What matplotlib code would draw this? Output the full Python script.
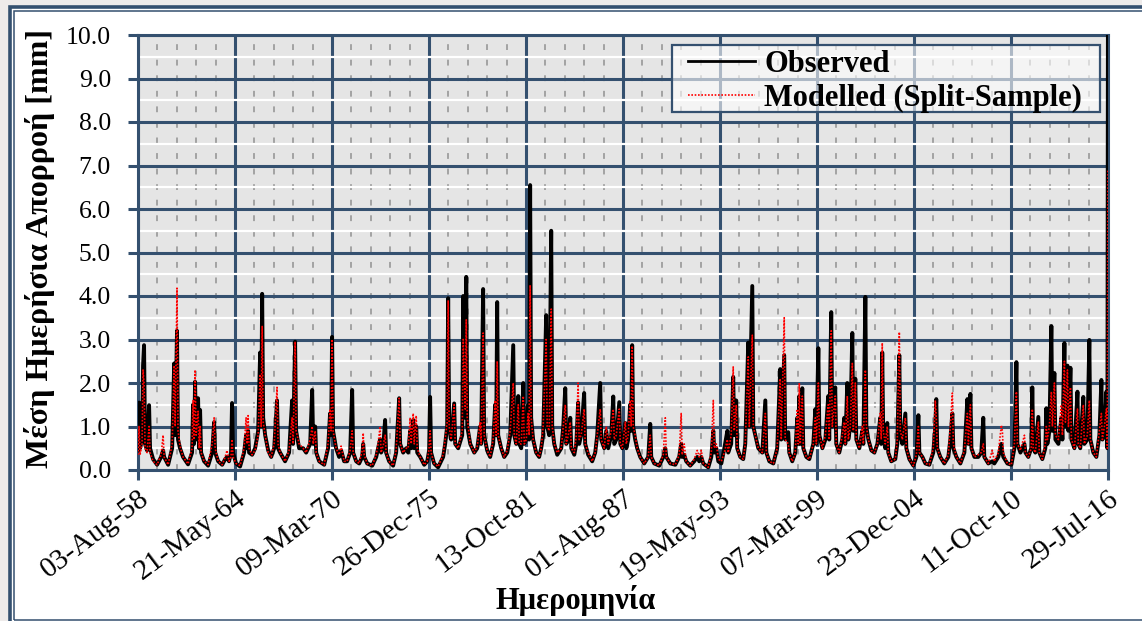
import numpy as np
import matplotlib
matplotlib.use("Agg")
import matplotlib.pyplot as plt
import matplotlib.transforms as mtransforms
from matplotlib.patches import Rectangle
from matplotlib.ticker import MultipleLocator, FormatStrFormatter

# time of each point as decimal year
t = [
    1958.59, 1958.65, 1958.71, 1958.83, 1958.89, 1958.95, 1959.01, 1959.13, 1959.25, 1959.31,
    1959.49, 1959.73, 1959.97, 1960.09, 1960.15, 1960.39, 1960.63, 1960.75, 1960.81, 1960.92,
    1960.98, 1961.10, 1961.28, 1961.58, 1961.82, 1961.88, 1961.94, 1962.00, 1962.06, 1962.18,
    1962.24, 1962.30, 1962.36, 1962.54, 1962.78, 1963.02, 1963.14, 1963.20, 1963.38, 1963.62,
    1963.80, 1963.91, 1964.03, 1964.15, 1964.21, 1964.27, 1964.45, 1964.69, 1964.93, 1965.05,
    1965.11, 1965.17, 1965.23, 1965.41, 1965.59, 1965.77, 1965.89, 1965.95, 1966.01, 1966.07,
    1966.19, 1966.37, 1966.55, 1966.73, 1966.90, 1966.96, 1967.08, 1967.38, 1967.62, 1967.80,
    1967.86, 1967.98, 1968.04, 1968.22, 1968.46, 1968.64, 1968.88, 1969.00, 1969.06, 1969.18,
    1969.24, 1969.42, 1969.72, 1969.95, 1970.07, 1970.13, 1970.19, 1970.25, 1970.43, 1970.61,
    1970.73, 1970.91, 1971.09, 1971.27, 1971.39, 1971.45, 1971.63, 1971.81, 1971.99, 1972.05,
    1972.11, 1972.29, 1972.59, 1972.83, 1972.94, 1973.06, 1973.12, 1973.24, 1973.36, 1973.42,
    1973.60, 1973.84, 1974.02, 1974.20, 1974.26, 1974.44, 1974.62, 1974.74, 1974.86, 1974.92,
    1975.04, 1975.10, 1975.22, 1975.28, 1975.46, 1975.70, 1975.88, 1975.99, 1976.05, 1976.11,
    1976.29, 1976.53, 1976.83, 1976.95, 1977.07, 1977.13, 1977.19, 1977.31, 1977.49, 1977.55,
    1977.73, 1977.97, 1978.03, 1978.15, 1978.21, 1978.27, 1978.45, 1978.69, 1978.87, 1979.04,
    1979.10, 1979.22, 1979.28, 1979.46, 1979.64, 1979.82, 1979.94, 1980.00, 1980.06, 1980.12,
    1980.30, 1980.48, 1980.66, 1980.84, 1981.02, 1981.08, 1981.20, 1981.32, 1981.38, 1981.50,
    1981.62, 1981.68, 1981.80, 1981.91, 1981.97, 1982.03, 1982.09, 1982.21, 1982.39, 1982.57,
    1982.69, 1982.81, 1982.99, 1983.05, 1983.17, 1983.29, 1983.35, 1983.47, 1983.65, 1983.89,
    1984.01, 1984.13, 1984.19, 1984.31, 1984.43, 1984.49, 1984.67, 1984.79, 1984.90, 1984.96,
    1985.08, 1985.26, 1985.32, 1985.50, 1985.74, 1985.92, 1986.04, 1986.22, 1986.28, 1986.46,
    1986.58, 1986.70, 1986.88, 1987.00, 1987.06, 1987.18, 1987.36, 1987.42, 1987.54, 1987.72,
    1987.78, 1987.89, 1988.01, 1988.07, 1988.13, 1988.19, 1988.31, 1988.43, 1988.61, 1988.85,
    1989.09, 1989.21, 1989.27, 1989.45, 1989.75, 1989.99, 1990.11, 1990.17, 1990.41, 1990.71,
    1990.94, 1991.06, 1991.12, 1991.24, 1991.36, 1991.60, 1991.84, 1992.02, 1992.14, 1992.26,
    1992.38, 1992.68, 1992.86, 1992.98, 1993.04, 1993.16, 1993.28, 1993.46, 1993.64, 1993.82,
    1993.87, 1994.05, 1994.17, 1994.23, 1994.35, 1994.41, 1994.59, 1994.77, 1994.89, 1995.07,
    1995.13, 1995.31, 1995.37, 1995.49, 1995.67, 1995.91, 1996.09, 1996.15, 1996.33, 1996.57,
    1996.80, 1996.98, 1997.04, 1997.22, 1997.28, 1997.46, 1997.52, 1997.70, 1997.88, 1998.00,
    1998.06, 1998.12, 1998.18, 1998.30, 1998.36, 1998.54, 1998.72, 1998.96, 1999.08, 1999.14,
    1999.26, 1999.32, 1999.50, 1999.68, 1999.85, 1999.91, 2000.03, 2000.09, 2000.27, 2000.33,
    2000.51, 2000.69, 2000.81, 2000.87, 2000.99, 2001.05, 2001.17, 2001.29, 2001.35, 2001.47,
    2001.53, 2001.71, 2001.89, 2001.95, 2002.07, 2002.13, 2002.25, 2002.43, 2002.61, 2002.79,
    2002.96, 2003.02, 2003.08, 2003.14, 2003.26, 2003.38, 2003.44, 2003.62, 2003.86, 2003.98,
    2004.10, 2004.16, 2004.28, 2004.46, 2004.52, 2004.70, 2004.94, 2005.12, 2005.24, 2005.30,
    2005.48, 2005.66, 2005.89, 2006.13, 2006.25, 2006.31, 2006.37, 2006.55, 2006.79, 2007.03,
    2007.15, 2007.27, 2007.33, 2007.51, 2007.75, 2007.99, 2008.17, 2008.23, 2008.35, 2008.41,
    2008.59, 2008.82, 2009.00, 2009.12, 2009.18, 2009.42, 2009.66, 2009.78, 2010.02, 2010.20,
    2010.26, 2010.32, 2010.56, 2010.80, 2010.98, 2011.10, 2011.16, 2011.34, 2011.58, 2011.64,
    2011.81, 2011.99, 2012.05, 2012.11, 2012.23, 2012.41, 2012.47, 2012.65, 2012.83, 2012.89,
    2012.95, 2013.07, 2013.19, 2013.25, 2013.37, 2013.43, 2013.61, 2013.79, 2013.85, 2013.97,
    2014.03, 2014.15, 2014.21, 2014.33, 2014.39, 2014.57, 2014.75, 2014.80, 2014.92, 2015.10,
    2015.16, 2015.34, 2015.46, 2015.52, 2015.70, 2015.88, 2016.06, 2016.18, 2016.24, 2016.36,
    2016.48, 2016.54, 2016.57,
]

# observed daily runoff [mm]
q_obs = [
    0.45, 1.55, 0.5, 0.7, 2.4, 2.87, 0.6, 0.45, 1.49, 0.5,
    0.25, 0.12, 0.3, 0.45, 0.3, 0.12, 0.5, 2.45, 0.8, 3.2,
    0.7, 0.5, 0.3, 0.13, 0.4, 1.5, 0.6, 2.03, 0.7, 1.65,
    0.5, 1.38, 0.4, 0.2, 0.1, 0.4, 1.1, 0.4, 0.2, 0.12,
    0.25, 0.3, 0.2, 0.4, 1.54, 0.4, 0.15, 0.08, 0.4, 0.8,
    0.5, 0.9, 0.4, 0.35, 0.5, 0.9, 2.7, 1.0, 4.05, 1.2,
    0.8, 0.45, 0.3, 0.5, 1.6, 0.5, 0.4, 0.2, 0.4, 1.6,
    0.6, 2.95, 0.9, 0.5, 0.5, 0.4, 0.6, 1.84, 0.6, 1.0,
    0.4, 0.2, 0.12, 0.5, 1.3, 0.8, 3.06, 0.9, 0.5, 0.3,
    0.45, 0.2, 0.2, 0.4, 1.84, 0.4, 0.2, 0.15, 0.3, 0.6,
    0.3, 0.15, 0.1, 0.3, 0.5, 0.7, 0.4, 0.5, 1.15, 0.4,
    0.2, 0.1, 0.4, 1.65, 0.6, 0.4, 0.5, 0.4, 0.9, 0.5,
    1.15, 0.5, 1.0, 0.4, 0.3, 0.12, 0.2, 0.45, 1.68, 0.4,
    0.15, 0.06, 0.3, 0.6, 1.0, 3.95, 1.0, 0.7, 1.53, 0.6,
    0.5, 0.8, 4.0, 1.2, 4.44, 1.0, 0.6, 0.4, 0.5, 1.0,
    0.6, 4.16, 0.8, 0.45, 0.3, 0.6, 1.5, 0.8, 3.86, 0.8,
    0.5, 0.3, 0.4, 0.8, 2.87, 0.8, 0.6, 1.7, 0.6, 0.5,
    2.0, 0.6, 0.7, 1.5, 0.7, 6.55, 1.2, 0.7, 0.4, 0.3,
    0.5, 0.8, 3.56, 1.0, 0.8, 5.5, 1.0, 0.6, 0.35, 0.5,
    1.0, 1.88, 0.6, 0.7, 1.2, 0.5, 0.35, 0.6, 1.55, 0.6,
    0.8, 1.77, 0.6, 0.35, 0.2, 0.4, 0.8, 2.0, 0.7, 0.5,
    0.9, 0.5, 0.8, 1.69, 0.6, 0.7, 1.56, 0.6, 0.5, 1.08,
    0.5, 0.7, 1.5, 0.9, 2.87, 1.0, 0.7, 0.5, 0.3, 0.15,
    0.3, 1.06, 0.3, 0.15, 0.1, 0.3, 0.5, 0.3, 0.15, 0.12,
    0.3, 0.6, 0.3, 0.35, 0.2, 0.1, 0.2, 0.3, 0.2, 0.3,
    0.15, 0.06, 0.3, 0.9, 0.4, 0.5, 0.2, 0.15, 0.5, 0.9,
    0.4, 0.6, 2.14, 0.8, 1.6, 0.5, 0.3, 0.25, 0.6, 2.93,
    1.0, 4.23, 1.0, 0.8, 0.5, 0.4, 1.6, 0.4, 0.2, 0.15,
    0.5, 2.32, 0.7, 2.64, 0.7, 0.87, 0.4, 0.2, 0.4, 1.2,
    0.6, 1.7, 0.6, 1.88, 0.5, 0.3, 0.25, 0.6, 1.4, 0.6,
    2.8, 0.8, 0.5, 0.7, 1.7, 0.7, 3.63, 1.0, 1.9, 0.6,
    0.4, 0.7, 1.2, 0.6, 2.0, 0.7, 1.0, 3.15, 0.9, 2.1,
    0.7, 0.5, 0.9, 0.6, 3.98, 1.0, 0.7, 0.45, 0.4, 0.6,
    1.2, 0.6, 2.7, 0.8, 0.5, 1.08, 0.4, 0.2, 0.25, 0.6,
    2.64, 0.8, 0.6, 1.3, 0.5, 0.25, 0.1, 0.3, 1.26, 0.4,
    0.3, 0.15, 0.12, 0.4, 1.0, 1.63, 0.5, 0.3, 0.15, 0.3,
    0.7, 1.3, 0.5, 0.3, 0.15, 0.4, 1.63, 0.6, 1.75, 0.5,
    0.3, 0.3, 0.4, 1.2, 0.3, 0.15, 0.2, 0.15, 0.3, 0.6,
    0.4, 0.3, 0.15, 0.12, 0.5, 2.48, 0.6, 0.4, 0.6, 0.4,
    0.3, 0.5, 1.9, 0.5, 0.4, 1.22, 0.4, 0.25, 0.5, 1.42,
    0.6, 0.9, 3.31, 0.9, 2.23, 0.7, 0.6, 1.2, 0.7, 2.92,
    1.0, 2.4, 0.9, 2.35, 0.7, 0.5, 1.8, 0.6, 0.5, 1.68,
    0.6, 0.7, 2.99, 0.7, 0.4, 0.3, 0.8, 2.07, 0.7, 0.8,
    1.8, 0.5, 10.0,
]

# modelled daily runoff, split-sample calibration [mm]
q_mod = [
    0.35, 1.0, 0.35, 0.6, 2.3, 2.0, 0.5, 0.4, 1.0, 0.4,
    0.2, 0.12, 0.35, 0.8, 0.3, 0.12, 0.6, 2.4, 1.0, 4.18,
    0.9, 0.55, 0.3, 0.14, 0.5, 1.6, 0.7, 2.3, 0.8, 1.35,
    0.5, 1.0, 0.4, 0.2, 0.12, 0.6, 1.2, 0.5, 0.2, 0.12,
    0.3, 0.45, 0.2, 0.3, 0.7, 0.3, 0.15, 0.1, 0.5, 1.2,
    0.6, 1.25, 0.5, 0.35, 0.45, 0.8, 2.2, 1.0, 3.3, 1.1,
    0.8, 0.4, 0.3, 0.6, 1.9, 0.6, 0.4, 0.2, 0.45, 1.2,
    0.6, 2.95, 0.9, 0.6, 0.5, 0.4, 0.7, 1.0, 0.6, 0.9,
    0.4, 0.2, 0.12, 0.6, 1.4, 0.9, 3.0, 0.9, 0.5, 0.35,
    0.55, 0.2, 0.2, 0.45, 0.9, 0.4, 0.2, 0.15, 0.45, 0.85,
    0.35, 0.15, 0.1, 0.35, 0.6, 1.0, 0.4, 0.55, 0.8, 0.4,
    0.2, 0.1, 0.45, 1.65, 0.6, 0.4, 0.5, 0.5, 1.2, 0.6,
    1.3, 0.6, 1.25, 0.5, 0.3, 0.12, 0.2, 0.5, 0.9, 0.4,
    0.15, 0.08, 0.35, 0.7, 1.1, 3.9, 1.0, 0.7, 1.5, 0.6,
    0.5, 0.9, 3.0, 1.4, 3.45, 1.2, 0.6, 0.4, 0.55, 1.1,
    0.6, 3.15, 0.8, 0.45, 0.3, 0.7, 1.6, 0.8, 2.5, 0.8,
    0.5, 0.3, 0.45, 0.9, 2.0, 0.8, 0.6, 1.5, 0.6, 0.6,
    1.7, 0.6, 0.7, 1.3, 0.8, 4.25, 1.2, 0.7, 0.4, 0.3,
    0.5, 1.0, 3.0, 1.0, 0.9, 3.7, 1.0, 0.6, 0.4, 0.5,
    1.0, 1.5, 0.6, 0.8, 1.1, 0.5, 0.4, 0.8, 2.0, 0.7,
    0.8, 1.4, 0.6, 0.4, 0.2, 0.4, 0.8, 1.4, 0.7, 0.5,
    1.0, 0.6, 0.9, 1.4, 0.7, 0.8, 1.4, 0.6, 0.5, 1.1,
    0.6, 0.8, 1.6, 1.0, 2.85, 1.0, 0.8, 0.5, 0.3, 0.15,
    0.3, 0.8, 0.3, 0.15, 0.1, 0.35, 1.2, 0.3, 0.15, 0.12,
    0.35, 1.3, 0.35, 0.6, 0.2, 0.1, 0.25, 0.45, 0.3, 0.45,
    0.15, 0.06, 0.4, 1.6, 0.5, 0.6, 0.25, 0.2, 0.4, 0.7,
    0.4, 0.8, 2.37, 0.9, 1.5, 0.5, 0.3, 0.25, 0.6, 2.6,
    1.0, 3.1, 1.0, 0.8, 0.5, 0.4, 1.3, 0.4, 0.2, 0.15,
    0.5, 2.1, 0.7, 3.5, 0.7, 0.6, 0.4, 0.2, 0.4, 1.4,
    0.6, 2.0, 0.6, 1.7, 0.5, 0.3, 0.25, 0.6, 1.2, 0.6,
    2.0, 0.8, 0.5, 0.8, 1.5, 0.7, 3.2, 1.0, 1.7, 0.6,
    0.4, 0.8, 1.1, 0.6, 1.7, 0.7, 1.0, 2.45, 0.9, 2.0,
    0.7, 0.5, 1.0, 0.6, 2.3, 1.0, 0.7, 0.45, 0.4, 0.6,
    1.3, 0.7, 2.92, 0.9, 0.6, 1.0, 0.4, 0.2, 0.25, 0.7,
    3.17, 0.9, 0.7, 1.2, 0.5, 0.25, 0.1, 0.35, 1.0, 0.4,
    0.3, 0.15, 0.12, 0.5, 1.6, 1.2, 0.5, 0.3, 0.15, 0.35,
    1.0, 1.77, 0.6, 0.3, 0.15, 0.45, 1.3, 0.6, 1.5, 0.5,
    0.3, 0.35, 0.4, 0.6, 0.3, 0.15, 0.45, 0.2, 0.4, 1.03,
    0.9, 0.4, 0.15, 0.12, 0.6, 1.8, 0.6, 0.45, 0.8, 0.4,
    0.3, 0.5, 1.4, 0.5, 0.4, 1.1, 0.4, 0.25, 0.6, 1.0,
    0.7, 1.0, 1.8, 1.0, 2.0, 0.8, 0.7, 1.5, 0.8, 2.5,
    1.1, 2.3, 1.0, 1.9, 0.7, 0.5, 1.4, 0.6, 0.5, 1.5,
    0.6, 0.8, 1.6, 0.7, 0.4, 0.3, 0.9, 1.3, 0.7, 1.0,
    1.4, 0.5, 6.9,
]

tick_labels = ["03-Aug-58", "21-May-64", "09-Mar-70", "26-Dec-75", "13-Oct-81",
               "01-Aug-87", "19-May-93", "07-Mar-99", "23-Dec-04", "11-Oct-10",
               "29-Jul-16"]

T0 = 1958.588      # 03-Aug-1958 as decimal year
STEP = 2118        # days between labelled dates
SPAN = STEP * 10

NAVY = "#34506f"
W, H = 1142, 621

plt.rcParams["font.family"] = ["Liberation Serif", "DejaVu Serif"]

assert len(t) == len(q_obs) == len(q_mod)
days = (np.array(t) - T0) * 365.25

fig = plt.figure(figsize=(W / 100, H / 100), dpi=100)
fig.patch.set_facecolor("#eeebea")


def box(x0, y0, x1, y1, **kw):
    # rectangle given in pixels from the top-left corner
    r = Rectangle((x0 / W, 1 - y1 / H), (x1 - x0) / W, (y1 - y0) / H,
                  transform=fig.transFigure, zorder=-5, **kw)
    fig.add_artist(r)


box(9.5, 6.5, 1160, 640, facecolor="white", edgecolor=NAVY, lw=2.6)
box(13.5, 10.5, 1160, 619.5, facecolor="none", edgecolor=NAVY, lw=1.1)

AX_X0, AX_Y0, AX_W, AX_H = 138, 35, 970, 435   # plot area in pixels, top-left origin
ax = fig.add_axes([AX_X0 / W, 1 - (AX_Y0 + AX_H) / H, AX_W / W, AX_H / H])
ax.set_facecolor("#e5e5e5")

ax.plot(days, q_obs, color="black", lw=2.8, label="Observed", zorder=3)
ax.plot(days, q_mod, color="red", lw=1.2, ls=(0, (1, 1)),
        label="Modelled (Split-Sample)", zorder=4)

ax.set_xlim(0, SPAN)
ax.set_ylim(0, 10)
ax.set_xticks(np.arange(0, SPAN + 1, STEP))
ax.set_xticklabels(tick_labels, rotation=37, ha="right", va="top",
                   rotation_mode="anchor", fontsize=21)
shift = mtransforms.ScaledTranslation(-7 / 100, 12 / 100, fig.dpi_scale_trans)
for lab in ax.get_xticklabels():
    lab.set_transform(lab.get_transform() + shift)
ax.xaxis.set_minor_locator(MultipleLocator(STEP / 5))
ax.yaxis.set_major_locator(MultipleLocator(1))
ax.yaxis.set_minor_locator(MultipleLocator(0.5))
ax.yaxis.set_major_formatter(FormatStrFormatter("%.1f"))
for lab in ax.get_yticklabels():
    lab.set_fontsize(18.5)

ax.set_axisbelow(True)
ax.grid(which="major", color=NAVY, lw=2.2)
ax.grid(which="minor", axis="y", color="white", lw=1.6)
ax.grid(which="minor", axis="x", color="#a3a3a3", lw=1.4, ls=(0, (3, 5)))
ax.tick_params(which="major", direction="out", length=7.5, width=2.2, color=NAVY)
ax.tick_params(axis="y", which="major", pad=12)
ax.tick_params(which="minor", length=0)
for s in ax.spines.values():
    s.set_color(NAVY)
    s.set_linewidth(2.2)


def ax_frac(px, py):
    # pixel position (top-left origin) to axes fraction
    return (px - AX_X0) / AX_W, (AX_Y0 + AX_H - py) / AX_H


# legend box drawn as its own patch so its padding can be set freely
lx0, ly0 = ax_frac(672, 112)
lx1, ly1 = ax_frac(1100, 45)
ax.add_patch(Rectangle((lx0, ly0), lx1 - lx0, ly1 - ly0, transform=ax.transAxes,
                       facecolor="white", alpha=0.6, edgecolor="none", zorder=5))
ax.add_patch(Rectangle((lx0, ly0), lx1 - lx0, ly1 - ly0, transform=ax.transAxes,
                       facecolor="none", edgecolor=NAVY, lw=1.6, zorder=6))

leg = ax.legend(loc="upper left", bbox_to_anchor=ax_frac(688, 50), borderaxespad=0,
                prop={"weight": "bold", "size": 22}, frameon=False,
                handlelength=2.2, handletextpad=0.3, borderpad=0.0, labelspacing=0.16)
leg.set_zorder(7)
leg.get_lines()[0].set_linewidth(2.0)

fig.text(40 / W, 1 - 248 / H, "Μέση Ημερήσια Απορροή [mm]", rotation=90,
         ha="center", va="center", fontsize=23, fontweight="bold")
fig.text(576 / W, 1 - 600 / H, "Ημερομηνία", ha="center", va="center",
         fontsize=22, fontweight="bold")

fig.savefig("out.png", dpi=100, facecolor=fig.get_facecolor())
